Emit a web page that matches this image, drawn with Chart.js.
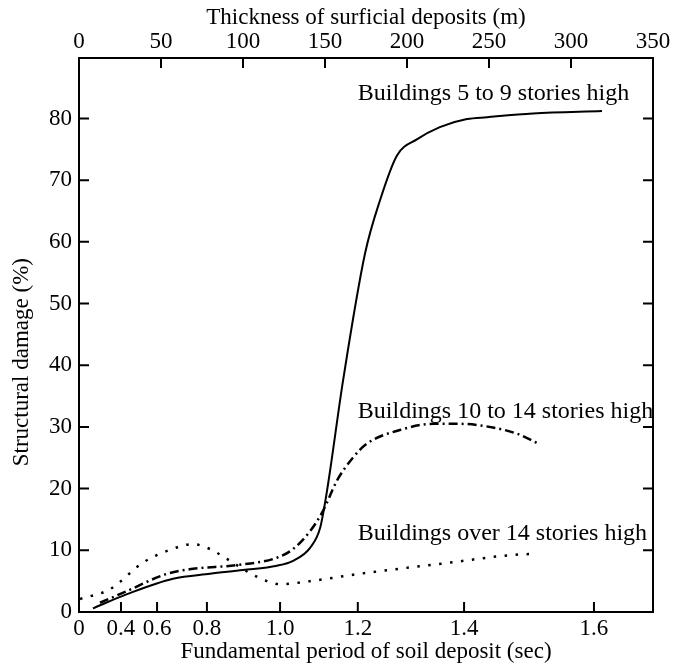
<!DOCTYPE html>
<html>
<head>
<meta charset="utf-8">
<script src="https://cdn.jsdelivr.net/npm/chart.js@4.4.1/dist/chart.umd.min.js"></script>
<style>
  html, body { margin: 0; padding: 0; background: #fff; }
  #wrap { width: 675px; height: 667px; }
</style>
</head>
<body>
<div id="wrap"><canvas id="damage"></canvas></div>
<script>
// bottom axis: soil period ticks, placed at the thickness (m) they correspond to
const periodLabels = ['0', '0.4', '0.6', '0.8', '1.0', '1.2', '1.4', '1.6'];
const periodAtThickness = [0, 25.6, 47.6, 78, 122.6, 170, 234.8, 314];

// Buildings 5 to 9 stories high (solid)
const midT = [8.5, 29.3, 57.3, 79.9, 100, 120.7, 130.5, 140.9, 147, 151.2, 161, 174.4, 183.5, 193.9, 206, 220, 236.6, 248.8, 276.8, 318.9];
const midDamage = [0.6, 2.9, 5.4, 6.2, 6.8, 7.5, 8.3, 10.4, 13.6, 19.6, 37.5, 58.1, 66.7, 74.0, 76.6, 78.6, 79.9, 80.2, 80.8, 81.2];

// Buildings 10 to 14 stories high (dash-dot)
const tallT = [12.8, 29.3, 53.7, 69.5, 96.3, 120.7, 130.5, 140.9, 148.8, 157.3, 167, 175.6, 195.7, 215.9, 232.3, 252.4, 267, 279.3];
const tallDamage = [1.5, 3.4, 6.2, 7.0, 7.6, 8.8, 10.2, 13.1, 16.4, 21.3, 25.0, 27.3, 29.5, 30.5, 30.5, 29.9, 28.9, 27.4];

// Buildings over 14 stories high (dotted)
const highT = [0.6, 18.9, 39, 53.7, 69.5, 79.9, 90.2, 104.3, 114.6, 122.6, 140.9, 171.3, 226, 262, 275];
const highDamage = [2.1, 3.7, 8.0, 9.9, 11.0, 10.2, 8.6, 6.3, 5.0, 4.5, 5.0, 6.2, 8.0, 9.2, 9.4];

const curveLabels = ['Buildings 5 to 9 stories high', 'Buildings 10 to 14 stories high', 'Buildings over 14 stories high'];
const labelT = [170, 170, 170];
const labelDamage = [84.0, 32.5, 12.7];

const serif = { family: '"Liberation Serif", "Times New Roman", serif', size: 23 };
const labelFont = '24px "Liberation Serif", "Times New Roman", serif';

function pts(xs, ys) {
  return xs.map((x, i) => ({ x: x, y: ys[i] }));
}

const inwardTicks = {
  id: 'inwardTicks',
  afterDraw(chart) {
    const ctx = chart.ctx;
    const a = chart.chartArea;
    const len = 10;
    ctx.save();
    ctx.strokeStyle = '#000';
    ctx.lineWidth = 2;
    ctx.beginPath();
    chart.scales.y.ticks.forEach(t => {
      if (t.value <= 0) return;
      const py = chart.scales.y.getPixelForValue(t.value);
      ctx.moveTo(a.left, py); ctx.lineTo(a.left + len, py);
      ctx.moveTo(a.right, py); ctx.lineTo(a.right - len, py);
    });
    chart.scales.xTop.ticks.forEach(t => {
      if (t.value <= 0 || t.value >= 350) return;
      const px = chart.scales.xTop.getPixelForValue(t.value);
      ctx.moveTo(px, a.top); ctx.lineTo(px, a.top + len);
    });
    chart.scales.x.ticks.forEach(t => {
      if (t.value <= 0) return;
      const px = chart.scales.x.getPixelForValue(t.value);
      ctx.moveTo(px, a.bottom); ctx.lineTo(px, a.bottom - len);
    });
    ctx.stroke();
    ctx.restore();
  }
};

// curve captions and the y-axis title (sits a bit below the axis centre in the original)
const curveText = {
  id: 'curveText',
  afterDatasetsDraw(chart) {
    const ctx = chart.ctx;
    ctx.save();
    ctx.fillStyle = '#000';
    ctx.font = labelFont;
    ctx.textAlign = 'left';
    ctx.textBaseline = 'middle';
    curveLabels.forEach((txt, i) => {
      ctx.fillText(txt, chart.scales.xTop.getPixelForValue(labelT[i]), chart.scales.y.getPixelForValue(labelDamage[i]));
    });
    ctx.font = serif.size + 'px ' + serif.family;
    ctx.textAlign = 'center';
    ctx.translate(22, chart.scales.y.getPixelForValue(40.5));
    ctx.rotate(-Math.PI / 2);
    ctx.fillText('Structural damage (%)', 0, 0);
    ctx.restore();
  }
};

new Chart(document.getElementById('damage'), {
  type: 'line',
  data: {
    datasets: [
      {
        label: curveLabels[0],
        data: pts(midT, midDamage),
        borderColor: '#000',
        borderWidth: 2,
        xAxisID: 'xTop'
      },
      {
        label: curveLabels[1],
        data: pts(tallT, tallDamage),
        borderColor: '#000',
        borderWidth: 2.5,
        borderDash: [9, 4, 2, 4],
        xAxisID: 'xTop'
      },
      {
        label: curveLabels[2],
        data: pts(highT, highDamage),
        borderColor: '#000',
        borderWidth: 2.5,
        borderDash: [2.5, 8.5],
        xAxisID: 'xTop'
      }
    ]
  },
  options: {
    responsive: true,
    maintainAspectRatio: false,
    animation: false,
    devicePixelRatio: 1,
    layout: { padding: 0 },
    elements: {
      point: { radius: 0 },
      line: { cubicInterpolationMode: 'monotone', fill: false }
    },
    plugins: {
      legend: { display: false },
      tooltip: { enabled: false }
    },
    scales: {
      x: {
        type: 'linear',
        position: 'bottom',
        min: 0,
        max: 350,
        afterBuildTicks: s => { s.ticks = periodAtThickness.map(v => ({ value: v })); },
        afterFit: s => { s.height = 55; },
        grid: { display: false, drawTicks: false },
        border: { color: '#000', width: 2 },
        ticks: {
          autoSkip: false,
          maxRotation: 0,
          padding: 3,
          color: '#000',
          font: serif,
          callback: (v, i) => periodLabels[i]
        },
        title: {
          display: true,
          text: 'Fundamental period of soil deposit (sec)',
          color: '#000',
          font: serif,
          padding: { top: 0, bottom: 1 }
        }
      },
      xTop: {
        type: 'linear',
        position: 'top',
        min: 0,
        max: 350,
        afterFit: s => { s.height = 58; },
        grid: { display: false, drawTicks: false },
        border: { color: '#000', width: 2 },
        ticks: { stepSize: 50, maxRotation: 0, padding: 2, color: '#000', font: serif },
        title: {
          display: true,
          text: 'Thickness of surficial deposits (m)',
          color: '#000',
          font: serif,
          padding: { top: 4, bottom: 0 }
        }
      },
      y: {
        min: 0,
        max: 89.8,
        afterFit: s => { s.width = 79; },
        grid: { display: false, drawTicks: false },
        border: { color: '#000', width: 2 },
        ticks: { stepSize: 10, includeBounds: false, padding: 7, color: '#000', font: serif },
        title: { display: false }
      },
      yRight: {
        position: 'right',
        min: 0,
        max: 89.8,
        afterFit: s => { s.width = 22; },
        grid: { display: false, drawTicks: false },
        border: { color: '#000', width: 2 },
        ticks: { display: false }
      }
    }
  },
  plugins: [inwardTicks, curveText]
});
</script>
</body>
</html>
